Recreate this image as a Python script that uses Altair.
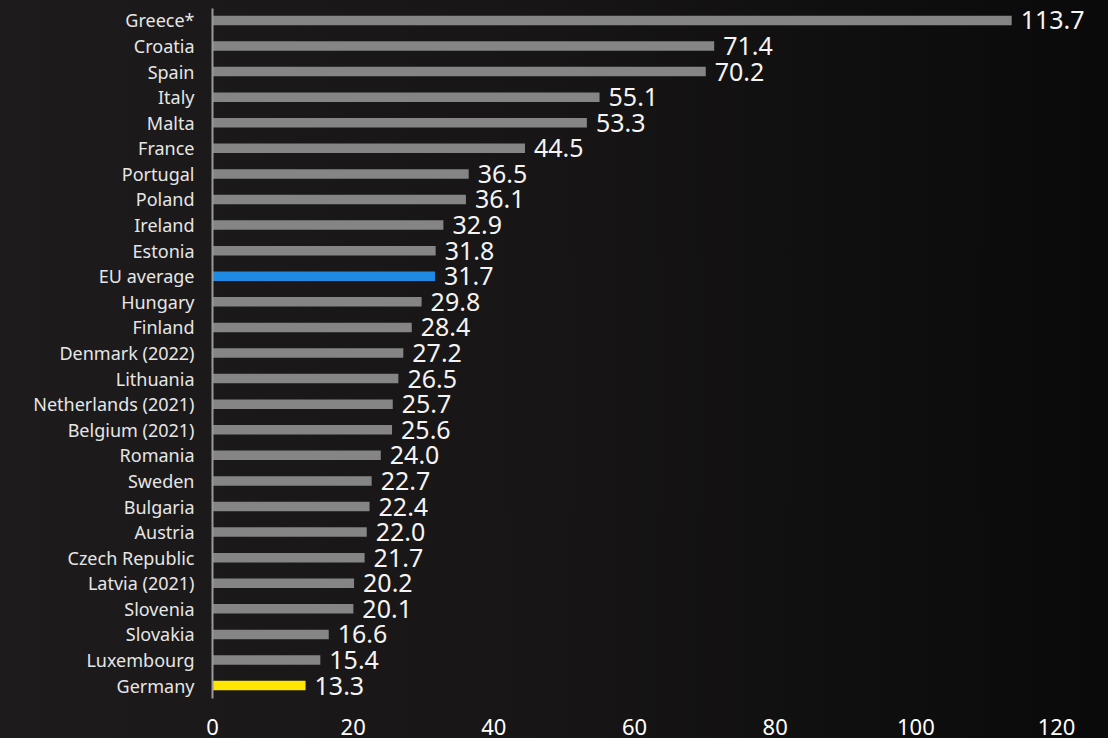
import altair as alt
import pandas as pd

countries = ["Greece*", "Croatia", "Spain", "Italy", "Malta", "France", "Portugal", "Poland",
             "Ireland", "Estonia", "EU average", "Hungary", "Finland", "Denmark (2022)",
             "Lithuania", "Netherlands (2021)", "Belgium (2021)", "Romania", "Sweden",
             "Bulgaria", "Austria", "Czech Republic", "Latvia (2021)", "Slovenia",
             "Slovakia", "Luxembourg", "Germany"]
values = [113.7, 71.4, 70.2, 55.1, 53.3, 44.5, 36.5, 36.1, 32.9, 31.8, 31.7, 29.8, 28.4,
          27.2, 26.5, 25.7, 25.6, 24.0, 22.7, 22.4, 22.0, 21.7, 20.2, 20.1, 16.6, 15.4, 13.3]
groups = ["EU" if c == "EU average" else ("DE" if c == "Germany" else "other") for c in countries]
x_ticks = [0, 20, 40, 60, 80, 100, 120]

df = pd.DataFrame({"country": countries, "value": values, "group": groups,
                   "label": [f"{v:.1f}" for v in values]})

W, H = 844, 690
PL, PT = 212, 8

bg = alt.Chart(pd.DataFrame({"a": [0]})).mark_rect(
    color=alt.Gradient(
        gradient="linear",
        stops=[alt.GradientStop(color="#1d1b1c", offset=0),
               alt.GradientStop(color="#171515", offset=0.5),
               alt.GradientStop(color="#0a0a0a", offset=1)],
        x1=0, x2=1, y1=0, y2=0),
    clip=False,
).encode(
    x=alt.value(-PL), x2=alt.value(1108 - PL),
    y=alt.value(-PT), y2=alt.value(738 - PT),
)

yenc = alt.Y("country:N", sort=countries,
             scale=alt.Scale(paddingInner=0.63, paddingOuter=0.3),
             axis=alt.Axis(title=None, ticks=False, labelPadding=18, labelFontSize=18,
                           labelColor="#e6e6e6", labelFont="Noto Sans", labelOffset=2,
                           domain=True, domainColor="#9a9a9a", domainWidth=2,
                           grid=False, zindex=1))
xenc = alt.X("value:Q", scale=alt.Scale(domain=[0, 120], nice=False),
             axis=alt.Axis(title=None, values=x_ticks, ticks=False, domain=False, grid=False,
                           labelFontSize=22, labelColor="#ffffff", labelFont="Noto Sans",
                           labelPadding=19, labelFlush=False, format="d", zindex=1))

bars = alt.Chart(df).mark_bar().encode(
    x=xenc, y=yenc,
    color=alt.Color("group:N",
                    scale=alt.Scale(domain=["other", "EU", "DE"],
                                    range=["#858585", "#1e8ae3", "#ffe600"]),
                    legend=None),
)

labels = alt.Chart(df).mark_text(
    align="left", baseline="middle", dx=9, dy=1, fontSize=25,
    font="Noto Sans", color="#f4f4f4",
).encode(x="value:Q", y=alt.Y("country:N", sort=countries), text="label:N")

chart = alt.layer(bg, bars, labels).properties(
    width=W, height=H,
    autosize=alt.AutoSizeParams(type="none"),
    padding={"left": PL, "top": PT, "right": 1108 - PL - W, "bottom": 738 - PT - H},
    background="#131212",
).configure_view(stroke=None)

chart.save("out.html", embed_options={"renderer": "svg", "actions": False})
